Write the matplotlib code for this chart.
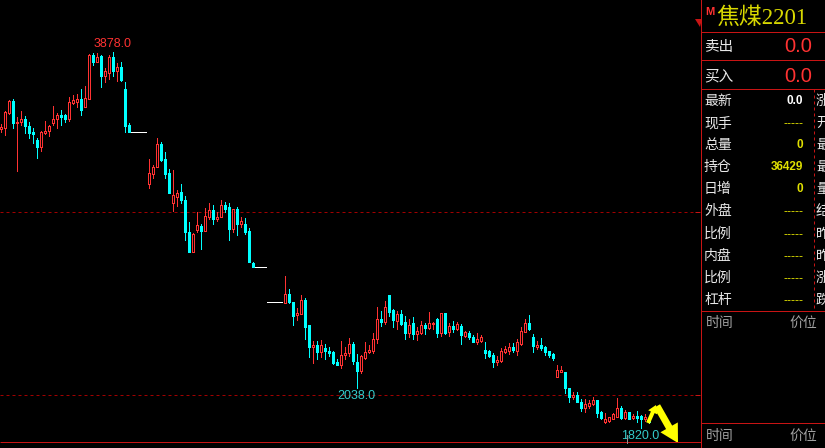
import matplotlib
matplotlib.use('Agg')
import matplotlib.pyplot as plt
import matplotlib.patches as mpatches
import numpy as np

plt.rcParams['font.family'] = ['Noto Sans CJK SC', 'DejaVu Sans']

# ---- data (daily OHLC; flat days with O=H=L=C are non-trading placeholders) ----
opens = [3456, 3464, 3546, 3610, 3487, 3495, 3511, 3473, 3442, 3396,
         3360, 3436, 3444, 3491, 3509, 3533, 3533, 3511, 3598, 3604,
         3620, 3578, 3620, 3861, 3825, 3856, 3748, 3764, 3850, 3776,
         3796, 3675, 3476, 3442, 3442, 3442, 3442, 3153, 3208, 3246,
         3374, 3292, 3215, 3053, 3086, 3111, 3067, 2892, 2785, 2905,
         2925, 2900, 2974, 3013, 2963, 2976, 3040, 3029, 2911, 3018,
         2938, 2936, 2898, 2723, 2703, 2703, 2703, 2508, 2508, 2508,
         2508, 2506, 2553, 2507, 2440, 2445, 2520, 2383, 2265, 2274,
         2236, 2258, 2241, 2236, 2183, 2163, 2217, 2228, 2279, 2181,
         2134, 2201, 2234, 2243, 2309, 2414, 2398, 2548, 2465, 2403,
         2444, 2400, 2341, 2394, 2336, 2340, 2383, 2369, 2387, 2416,
         2340, 2449, 2345, 2378, 2363, 2378, 2323, 2340, 2318, 2290,
         2296, 2247, 2239, 2219, 2181, 2186, 2236, 2241, 2263, 2241,
         2279, 2347, 2394, 2318, 2263, 2274, 2263, 2241, 2225, 2101,
         2128, 2126, 2040, 1989, 2000, 1964, 1931, 1940, 1951, 1975,
         1909, 1854, 1860, 1871, 1882, 1931, 1876, 1909, 1873, 1887,
         1887, 1867, 1871]
highs = [3482, 3555, 3615, 3620, 3520, 3555, 3527, 3493, 3460, 3409,
         3445, 3500, 3478, 3582, 3542, 3560, 3538, 3630, 3640, 3648,
         3673, 3692, 3867, 3870, 3870, 3861, 3792, 3861, 3878, 3819,
         3821, 3715, 3487, 3442, 3442, 3442, 3442, 3292, 3259, 3407,
         3383, 3330, 3235, 3232, 3122, 3155, 3089, 2947, 2885, 3002,
         2934, 3022, 3051, 3040, 3004, 3067, 3057, 3051, 3020, 3029,
         2974, 2969, 2912, 2728, 2703, 2703, 2703, 2508, 2508, 2508,
         2508, 2651, 2578, 2511, 2478, 2546, 2529, 2383, 2296, 2296,
         2301, 2279, 2265, 2241, 2197, 2296, 2265, 2312, 2289, 2225,
         2217, 2290, 2274, 2340, 2482, 2460, 2515, 2548, 2473, 2460,
         2465, 2433, 2414, 2427, 2372, 2403, 2396, 2455, 2400, 2422,
         2451, 2449, 2393, 2405, 2400, 2389, 2352, 2349, 2329, 2340,
         2331, 2290, 2245, 2228, 2214, 2258, 2267, 2285, 2285, 2307,
         2372, 2418, 2438, 2334, 2296, 2312, 2268, 2241, 2230, 2164,
         2161, 2126, 2040, 2017, 2017, 1980, 1977, 1975, 1991, 1975,
         1915, 1900, 1882, 1902, 1984, 1940, 1918, 1909, 1894, 1913,
         1891, 1898, 1885]
lows = [3442, 3423, 3538, 3464, 3228, 3478, 3433, 3405, 3378, 3299,
        3338, 3427, 3420, 3478, 3464, 3478, 3496, 3502, 3593, 3575,
        3533, 3575, 3620, 3806, 3821, 3688, 3715, 3730, 3748, 3721,
        3719, 3442, 3442, 3442, 3442, 3442, 3442, 3135, 3190, 3246,
        3281, 3190, 3108, 3007, 3036, 3053, 2849, 2785, 2785, 2894,
        2799, 2900, 2962, 2938, 2953, 2976, 3004, 2849, 2894, 2878,
        2920, 2883, 2730, 2703, 2703, 2703, 2703, 2508, 2508, 2508,
        2508, 2506, 2502, 2383, 2411, 2442, 2309, 2206, 2177, 2196,
        2206, 2196, 2214, 2168, 2165, 2148, 2196, 2216, 2170, 2038,
        2123, 2196, 2228, 2232, 2283, 2378, 2391, 2430, 2374, 2362,
        2383, 2307, 2320, 2309, 2301, 2334, 2334, 2362, 2362, 2318,
        2325, 2334, 2323, 2347, 2356, 2279, 2318, 2307, 2290, 2279,
        2290, 2203, 2208, 2154, 2165, 2181, 2230, 2225, 2236, 2219,
        2274, 2345, 2356, 2236, 2252, 2247, 2219, 2206, 2192, 2097,
        2126, 2009, 1962, 1978, 1962, 1911, 1909, 1929, 1946, 1880,
        1871, 1845, 1854, 1869, 1880, 1869, 1871, 1869, 1871, 1854,
        1820, 1860, 1847]
closes = [3469, 3551, 3611, 3491, 3496, 3511, 3474, 3436, 3429, 3360,
          3440, 3445, 3473, 3511, 3533, 3524, 3511, 3602, 3613, 3620,
          3560, 3624, 3861, 3821, 3850, 3748, 3772, 3850, 3774, 3796,
          3724, 3473, 3442, 3442, 3442, 3442, 3442, 3215, 3250, 3374,
          3286, 3212, 3108, 3093, 3104, 3066, 2894, 2785, 2881, 2929,
          2900, 2980, 3013, 2965, 2974, 3040, 3018, 2909, 3018, 2938,
          2953, 2894, 2730, 2703, 2703, 2703, 2703, 2508, 2508, 2508,
          2508, 2553, 2507, 2434, 2449, 2518, 2374, 2265, 2274, 2237,
          2272, 2241, 2232, 2177, 2165, 2217, 2232, 2279, 2185, 2134,
          2214, 2236, 2247, 2307, 2414, 2400, 2482, 2455, 2411, 2444,
          2389, 2341, 2383, 2334, 2351, 2383, 2369, 2394, 2394, 2340,
          2449, 2340, 2378, 2360, 2391, 2329, 2345, 2320, 2292, 2307,
          2318, 2232, 2214, 2181, 2192, 2241, 2252, 2263, 2247, 2290,
          2351, 2394, 2362, 2268, 2274, 2258, 2236, 2219, 2203, 2137,
          2137, 2039, 1989, 2000, 1964, 1931, 1951, 1958, 1975, 1904,
          1876, 1869, 1878, 1894, 1931, 1873, 1909, 1871, 1887, 1876,
          1867, 1882, 1851]

grid_levels = [3000, 2000]
symbol = '焦煤2201'
sell_label, buy_label = '卖出', '买入'
sell_value, buy_value = '0.0', '0.0'
panel_rows = ['最新', '现手', '总量', '持仓', '日增', '外盘', '比例', '内盘', '比例', '杠杆']
panel_values = ['0.0', '-----', '0', '36429', '0', '-----', '-----', '-----', '-----', '-----']
right_col = ['涨', '开', '最', '最', '量', '结', '昨', '昨', '涨', '跌']
footer_labels = ['时间', '价位']

# ---- style ----
W, H = 825, 448
PX = 72.0 / 100.0           # one pixel in points
RED = '#ff3232'
CYAN = '#00ffff'
LINE_RED = '#c81414'
GRID_RED = '#a00000'
YELLOW = '#e0e000'
CJK = ['Noto Sans CJK SC', 'DejaVu Sans']

fig = plt.figure(figsize=(W / 100, H / 100), dpi=100, facecolor='black')
ax = fig.add_axes([0, 6 / H, 700 / W, 442 / H])
ax.set_facecolor('black')
ax.set_xlim(-0.125, 174.875)
ax.set_ylim(1743, 4162)
ax.axis('off')

for lv in grid_levels:
    ax.axhline(lv, color=GRID_RED, lw=PX, dashes=(3, 3), zorder=1)

# flat (non-trading) runs drawn as white dashed segments
flat = [h == l for h, l in zip(highs, lows)]
i = 0
n = len(opens)
while i < n:
    if flat[i]:
        j = i
        while j + 1 < n and flat[j + 1] and closes[j + 1] == closes[i]:
            j += 1
        ax.plot([i - 0.375, j + 0.375], [closes[i], closes[i]], color='white',
                lw=PX, dashes=(3, 1), dash_capstyle='butt', antialiased=False,
                zorder=2)
        i = j + 1
    else:
        i += 1

for i, (o, h, l, c) in enumerate(zip(opens, highs, lows, closes)):
    if h == l:
        continue
    if c >= o:
        col, face = RED, 'black'
    else:
        col, face = CYAN, CYAN
    ax.plot([i, i], [l, h], color=col, lw=PX, solid_capstyle='butt',
            antialiased=False, zorder=2)
    lo, hi = min(o, c), max(o, c)
    ax.add_patch(mpatches.Rectangle((i - 0.25, lo), 0.5, hi - lo,
                                    facecolor=face, edgecolor=col, lw=PX,
                                    antialiased=False, zorder=3))

imax = int(np.argmax(highs))
imin = int(np.argmin(lows))
iloc = 71 + int(np.argmin(lows[71:130]))
ax.annotate(f'{highs[imax]:.1f}', (imax, highs[imax]), xytext=(0, 8 * PX),
            textcoords='offset points', ha='center', va='center',
            color=RED, fontsize=9, family='Liberation Sans')
for idx in (iloc, imin):
    ax.annotate(f'{lows[idx]:.1f}', (idx, lows[idx]), xytext=(0, -8 * PX),
                textcoords='offset points', ha='center', va='center',
                color='#33cccc', fontsize=9, family='Liberation Sans')

# ---- overlay in pixel coordinates ----
ov = fig.add_axes([0, 0, 1, 1])
ov.set_xlim(0, W)
ov.set_ylim(H, 0)
ov.axis('off')

def hline(y, x0, x1, **kw):
    ov.plot([x0, x1], [y, y], color=LINE_RED, lw=PX, solid_capstyle='butt', **kw)

ov.plot([701, 701], [0, H], color=LINE_RED, lw=PX)
hline(442.5, 0, 701)
for y in (32.5, 60.5, 89, 311, 423.5):
    hline(y, 701, W)
ov.plot([813.5, 813.5], [89, 311], color=LINE_RED, lw=PX, dashes=(3, 3))
for lv in grid_levels:
    ypx = H - ax.transData.transform((0, lv))[1]
    hline(ypx, 695, 700)
ov.add_patch(mpatches.Polygon([(695, 19), (702, 19), (700, 27)], closed=True,
                              facecolor=LINE_RED, edgecolor='none'))

ov.text(705, 12, 'M', color=RED, fontsize=8, fontweight='bold',
        family='Liberation Sans', ha='left', va='center')
ov.text(716, 18, symbol, color='#d8d800', fontsize=16.5,
        family=['Liberation Serif', 'Noto Sans CJK SC'], ha='left', va='center')

ov.text(704, 47, sell_label, color='#e8e8e8', fontsize=10.5, family=CJK, va='center')
ov.text(812, 47, sell_value, color=RED, fontsize=14.5, family='Liberation Sans',
        ha='right', va='center')
ov.text(704, 76, buy_label, color='#e8e8e8', fontsize=10.5, family=CJK, va='center')
ov.text(812, 76, buy_value, color=RED, fontsize=14.5, family='Liberation Sans',
        ha='right', va='center')

for k, (lab, val, rc) in enumerate(zip(panel_rows, panel_values, right_col)):
    y = 101 + 22.1 * k
    ov.text(704, y, lab, color='#e8e8e8', fontsize=10, family=CJK, va='center')
    if val.startswith('-'):
        ov.text(803, y + 1, val, color=YELLOW, fontsize=9,
                family='Liberation Sans', ha='right', va='center')
    else:
        ov.text(803, y, val, color='white' if k == 0 else YELLOW, fontsize=8.5,
                fontweight='bold', family='Liberation Sans', ha='right', va='center')
    ov.text(816, y, rc, color='#e8e8e8', fontsize=10, family=CJK, va='center',
            clip_on=False)

for y in (323, 436):
    ov.text(706, y, footer_labels[0], color='#a0a0a0', fontsize=10, family=CJK, va='center')
    ov.text(789, y, footer_labels[1], color='#a0a0a0', fontsize=10, family=CJK, va='center')

# markers at the end of the series
ov.add_patch(mpatches.FancyArrow(648, 423, 8, -18, width=4, head_width=10,
                                 head_length=8, length_includes_head=True,
                                 color='#ffff00', lw=0))
ov.add_patch(mpatches.FancyArrow(657, 406, 21, 37, width=7, head_width=20,
                                 head_length=18, length_includes_head=True,
                                 color='#ffff00', lw=0))
ov.plot([627, 627], [435, 443], color='#909090', lw=PX)

fig.savefig('out.png', dpi=100, facecolor='black')
